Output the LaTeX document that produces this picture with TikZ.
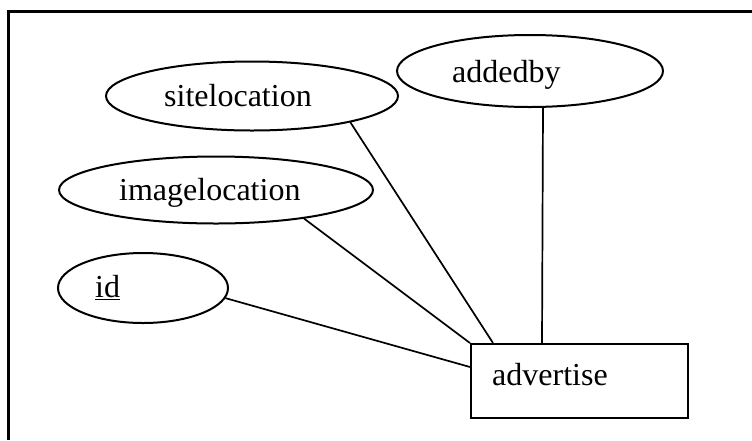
\documentclass[tikz,border=0pt]{standalone}
\usepackage{fontspec}
\setmainfont{Liberation Serif}
\usetikzlibrary{shapes.geometric,calc}
\tikzset{
  attr/.style={ellipse, draw, line width=2pt, inner sep=0pt},
  entity/.style={rectangle, draw, line width=2pt, inner sep=0pt, minimum width=217pt, minimum height=74pt},
  lbl/.style={inner sep=0pt, anchor=base west, font=\fontsize{32}{38}\selectfont},
  conn/.style={line width=1.7pt},
  frame/.style={line width=3pt}
}
\begin{document}
\begin{tikzpicture}[x=1pt,y=-1pt]
\useasboundingbox (0,0) rectangle (752,440);
% frame (top and left only)
\coordinate (ftr) at (752,11);
\coordinate (ftl) at (8,11);
\coordinate (fbl) at (8,440);
\draw[frame] (ftr) -- (ftl) -- (fbl);
% attribute ellipses
\node[attr, minimum width=266pt, minimum height=72pt] (added) at (530,71) {};
\node[attr, minimum width=292pt, minimum height=69pt] (site) at (252,96) {};
\node[attr, minimum width=314pt, minimum height=67pt] (img) at (216,190) {};
\node[attr, minimum width=170pt, minimum height=70pt] (id) at (143,288) {};
% entity box
\node[entity] (box) at (579.5,381) {};
% labels
\node[lbl] (tadded) at (452,82) {addedby};
\node[lbl] (tsite) at (164,106) {sitelocation};
\node[lbl] (timg) at (119,200) {imagelocation};
\node[lbl] (tid) at (95,297) {\underline{id}};
\node[lbl] (tbox) at (492,385) {advertise};
% connectors
\draw[conn] ([xshift=13pt]added.south) -- ([xshift=72pt]box.north west);
\draw[conn] (site.-15) -- ([xshift=23pt]box.north west);
\draw[conn] (img.-18) -- (box.north west);
\draw[conn] (id.-7) -- ([yshift=-24pt]box.north west);
\end{tikzpicture}
\end{document}
